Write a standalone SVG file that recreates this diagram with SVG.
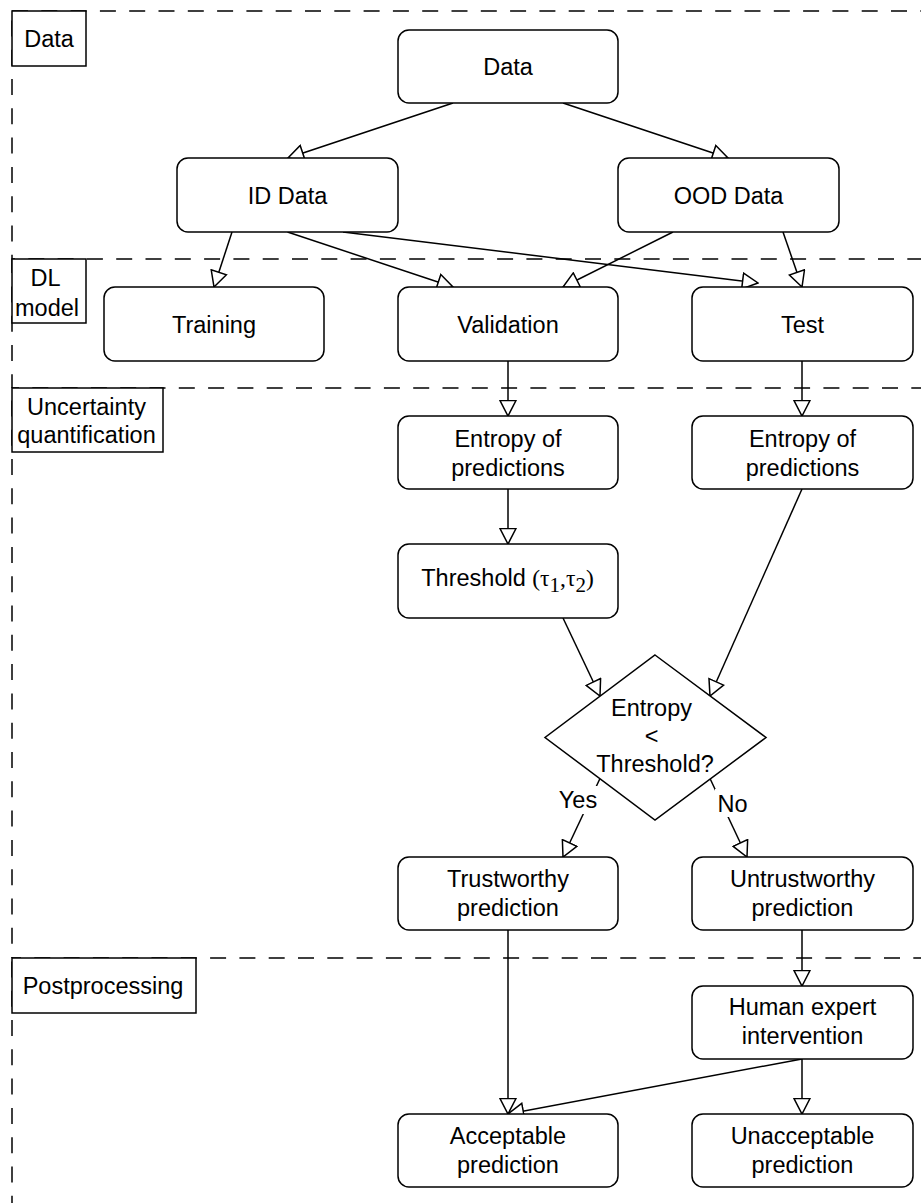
<svg xmlns="http://www.w3.org/2000/svg" width="921" height="1203" viewBox="0 0 921 1203">
<style>
  text { font-family: "Liberation Sans", Arial, sans-serif; font-size: 23.5px; fill: #000; }
  .node { fill: #fff; stroke: #000; stroke-width: 1.5; }
  .lbl { fill: #fff; stroke: #000; stroke-width: 1.5; }
  .lane { fill: none; stroke: #000; stroke-width: 1.5; stroke-dasharray: 16 13.3; }
  .edge { fill: none; stroke: #000; stroke-width: 1.5; marker-end: url(#arr); }
  .c { text-anchor: middle; }
  .serif { font-family: "Liberation Serif", "Times New Roman", serif; }
</style>
<defs>
  <marker id="arr" markerUnits="userSpaceOnUse" markerWidth="18" markerHeight="18" viewBox="0 0 18 18" refX="16.5" refY="9" orient="auto">
    <path d="M1,1 L16.5,9 L1,17 Z" fill="#fff" stroke="#000" stroke-width="1.5" stroke-linejoin="miter"/>
  </marker>
</defs>
<rect x="0" y="0" width="921" height="1203" fill="#fff"/>

<g id="lanes">
  <line class="lane" x1="12" y1="11" x2="940" y2="11" stroke-dashoffset="0"/>
  <line class="lane" x1="12" y1="259" x2="940" y2="259" stroke-dashoffset="13"/>
  <line class="lane" x1="12" y1="388" x2="940" y2="388" stroke-dashoffset="9"/>
  <line class="lane" x1="12" y1="958" x2="940" y2="958" stroke-dashoffset="7"/>
  <line class="lane" x1="12" y1="11" x2="12" y2="259" stroke-dashoffset="19.9"/>
  <line class="lane" x1="12" y1="259" x2="12" y2="388" stroke-dashoffset="1.9"/>
  <line class="lane" x1="12" y1="388" x2="12" y2="958" stroke-dashoffset="16.9"/>
  <line class="lane" x1="12" y1="958" x2="12" y2="1210" stroke-dashoffset="25.9"/>
  <g id="lane-data">
    <rect class="lbl" x="12" y="11" width="74" height="55"/>
    <text class="c" x="49" y="47">Data</text>
  </g>
  <g id="lane-dl">
    <rect class="lbl" x="12" y="259" width="74" height="64"/>
    <text class="c" x="45.5" y="286">DL</text>
    <text class="c" x="47" y="316">model</text>
  </g>
  <g id="lane-uq">
    <rect class="lbl" x="12" y="388" width="151" height="64"/>
    <text class="c" x="86.5" y="415">Uncertainty</text>
    <text class="c" x="86.5" y="443">quantification</text>
  </g>
  <g id="lane-post">
    <rect class="lbl" x="12" y="958" width="184" height="55"/>
    <text class="c" x="103" y="994">Postprocessing</text>
  </g>
</g>

<g id="connectors">
  <line class="edge" x1="453" y1="103" x2="288" y2="158"/>
  <line class="edge" x1="563" y1="103" x2="728" y2="158"/>
  <line class="edge" x1="232" y1="232" x2="214" y2="287"/>
  <line class="edge" x1="287.5" y1="232" x2="453" y2="287"/>
  <line class="edge" x1="343" y1="232" x2="758" y2="283"/>
  <line class="edge" x1="673" y1="232" x2="563" y2="287"/>
  <line class="edge" x1="783" y1="232" x2="802" y2="287"/>
  <line class="edge" x1="508" y1="361" x2="508" y2="416"/>
  <line class="edge" x1="802" y1="361" x2="802" y2="416"/>
  <line class="edge" x1="508" y1="489" x2="508" y2="544"/>
  <line class="edge" x1="563" y1="618" x2="600" y2="696"/>
  <line class="edge" x1="802" y1="489" x2="710" y2="696"/>
  <line class="edge" x1="600" y1="778.5" x2="563" y2="857"/>
  <line class="edge" x1="710" y1="778.5" x2="747" y2="857"/>
  <line class="edge" x1="802" y1="930" x2="802" y2="986"/>
  <line class="edge" x1="508" y1="930" x2="508" y2="1114"/>
  <line class="edge" x1="802" y1="1059" x2="508" y2="1114"/>
  <line class="edge" x1="802" y1="1059" x2="802" y2="1114"/>
  <g id="label-yes">
    <rect x="558" y="786" width="40" height="28" fill="#fff"/>
    <text class="c" x="578" y="808">Yes</text>
  </g>
  <g id="label-no">
    <rect x="715" y="789" width="34" height="28" fill="#fff"/>
    <text class="c" x="732.5" y="811.5">No</text>
  </g>
</g>

<g id="n-data">
  <rect class="node" x="398" y="30" width="220" height="73" rx="11"/>
  <text class="c" x="508" y="75">Data</text>
</g>
<g id="n-id">
  <rect class="node" x="177" y="158" width="221" height="74" rx="11"/>
  <text class="c" x="287.5" y="203.5">ID Data</text>
</g>
<g id="n-ood">
  <rect class="node" x="618" y="158" width="221" height="74" rx="11"/>
  <text class="c" x="728.5" y="203.5">OOD Data</text>
</g>
<g id="n-training">
  <rect class="node" x="104" y="287" width="220" height="74" rx="11"/>
  <text class="c" x="214" y="332.5">Training</text>
</g>
<g id="n-validation">
  <rect class="node" x="398" y="287" width="220" height="74" rx="11"/>
  <text class="c" x="508" y="332.5">Validation</text>
</g>
<g id="n-test">
  <rect class="node" x="692" y="287" width="221" height="74" rx="11"/>
  <text class="c" x="802.5" y="332.5">Test</text>
</g>
<g id="n-entropy1">
  <rect class="node" x="398" y="416" width="220" height="73" rx="11"/>
  <text class="c" x="508" y="447">Entropy of</text>
  <text class="c" x="508" y="476">predictions</text>
</g>
<g id="n-entropy2">
  <rect class="node" x="692" y="416" width="221" height="73" rx="11"/>
  <text class="c" x="802.5" y="447">Entropy of</text>
  <text class="c" x="802.5" y="476">predictions</text>
</g>
<g id="n-threshold">
  <rect class="node" x="398" y="544" width="220" height="74" rx="11"/>
  <text class="c" x="507.5" y="586">Threshold <tspan class="serif">(τ<tspan font-size="21" dy="6">1</tspan><tspan dy="-6">,τ</tspan><tspan font-size="21" dy="6">2</tspan><tspan dy="-6">)</tspan></tspan></text>
</g>
<g id="n-decision">
  <polygon class="node" points="655,655 766,737.5 655,820 545,737.5"/>
  <text class="c" x="651.5" y="716">Entropy</text>
  <text class="c" x="651.5" y="744">&lt;</text>
  <text class="c" x="655" y="772">Threshold?</text>
</g>
<g id="n-trustworthy">
  <rect class="node" x="398" y="857" width="220" height="73" rx="11"/>
  <text class="c" x="508" y="887">Trustworthy</text>
  <text class="c" x="508" y="916">prediction</text>
</g>
<g id="n-untrustworthy">
  <rect class="node" x="692" y="857" width="221" height="73" rx="11"/>
  <text class="c" x="802.5" y="887">Untrustworthy</text>
  <text class="c" x="802.5" y="916">prediction</text>
</g>
<g id="n-human">
  <rect class="node" x="692" y="986" width="221" height="73" rx="11"/>
  <text class="c" x="802.5" y="1015">Human expert</text>
  <text class="c" x="802.5" y="1044">intervention</text>
</g>
<g id="n-acceptable">
  <rect class="node" x="398" y="1114" width="220" height="73" rx="11"/>
  <text class="c" x="508" y="1144">Acceptable</text>
  <text class="c" x="508" y="1173">prediction</text>
</g>
<g id="n-unacceptable">
  <rect class="node" x="692" y="1114" width="221" height="73" rx="11"/>
  <text class="c" x="802.5" y="1144">Unacceptable</text>
  <text class="c" x="802.5" y="1173">prediction</text>
</g>
</svg>
